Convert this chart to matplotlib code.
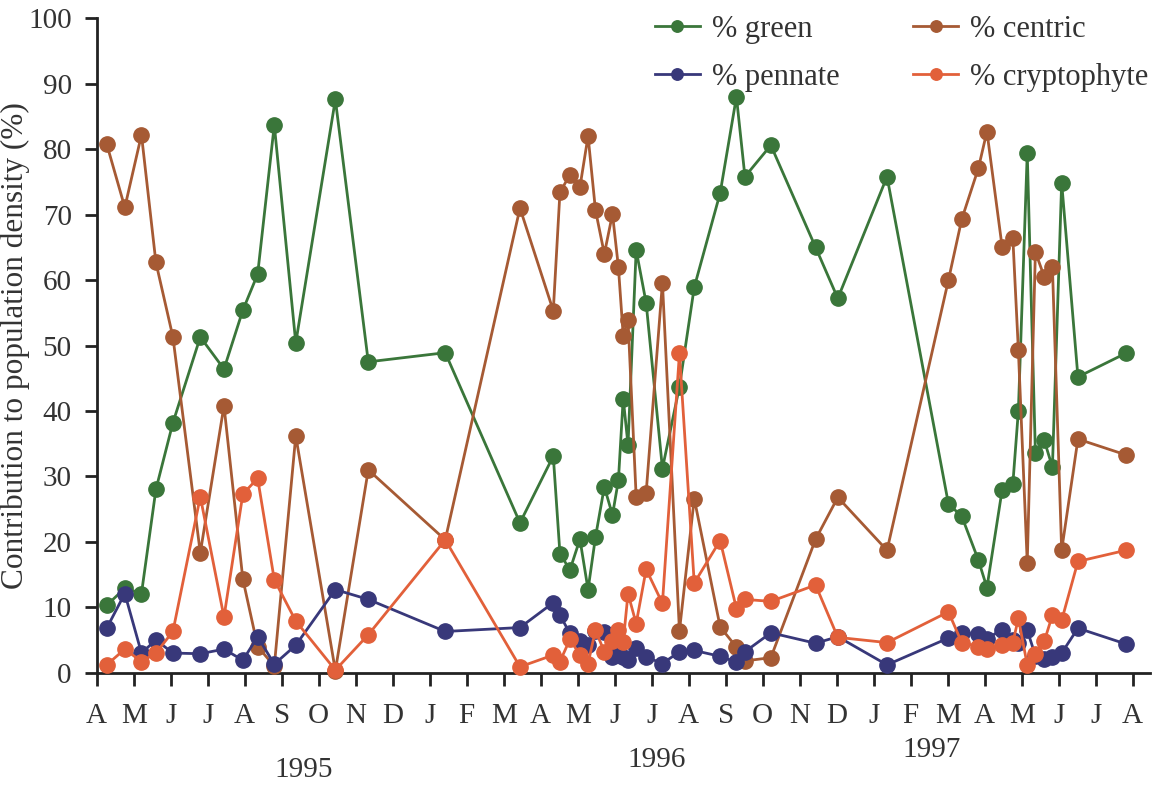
import matplotlib
matplotlib.use("Agg")
import matplotlib.pyplot as plt

# sampling dates, in months after 1 April 1995
months = [0.27, 0.76, 1.21, 1.60, 2.06, 2.80, 3.44, 3.95, 4.35, 4.80,
          5.38, 6.45, 7.34, 9.42, 11.44, 12.34, 12.52, 12.79, 13.06, 13.28,
          13.48, 13.72, 13.94, 14.10, 14.23, 14.36, 14.58, 14.85, 15.29, 15.75,
          16.15, 16.85, 17.29, 17.52, 18.22, 19.43, 20.03, 21.36, 23.02, 23.38,
          23.83, 24.06, 24.47, 24.76, 24.91, 25.15, 25.37, 25.61, 25.83, 26.08,
          26.52, 27.81]

green = [10.3, 12.9, 12.1, 28.0, 38.2, 51.3, 46.4, 55.4, 60.9, 83.7,
         50.4, 87.6, 47.5, 48.9, 22.9, 33.1, 18.2, 15.7, 20.4, 12.7,
         20.7, 28.4, 24.1, 29.4, 41.9, 34.8, 64.6, 56.5, 31.2, 43.7,
         58.9, 73.3, 88.0, 75.8, 80.6, 65.0, 57.2, 75.8, 25.8, 23.9,
         17.2, 13.0, 27.9, 28.8, 40.0, 79.4, 33.6, 35.5, 31.4, 74.9,
         45.2, 48.8]

centric = [80.8, 71.1, 82.2, 62.7, 51.3, 18.3, 40.8, 14.3, 4.0, 1.0,
           36.2, 0.3, 31.0, 20.3, 71.0, 55.3, 73.4, 76.1, 74.2, 82.0,
           70.7, 64.0, 70.1, 62.0, 51.5, 53.9, 26.9, 27.5, 59.6, 6.4,
           26.6, 7.0, 3.9, 1.8, 2.3, 20.4, 26.8, 18.7, 60.0, 69.3,
           77.1, 82.7, 65.1, 66.5, 49.3, 16.8, 64.3, 60.5, 62.0, 18.7,
           35.7, 33.3]

pennate = [6.8, 12.1, 3.0, 5.0, 3.0, 2.9, 3.6, 1.9, 5.5, 1.3,
           4.2, 12.7, 11.2, 6.3, 6.9, 10.7, 8.8, 6.0, 4.8, 4.2,
           6.3, 6.2, 2.4, 2.7, 2.4, 1.9, 3.7, 2.4, 1.4, 3.2,
           3.4, 2.5, 1.6, 3.2, 6.1, 4.5, 5.5, 1.2, 5.3, 6.0,
           5.9, 5.2, 6.6, 5.0, 4.5, 6.5, 2.6, 2.1, 2.4, 3.0,
           6.8, 4.4]

cryptophyte = [1.2, 3.6, 1.7, 3.0, 6.3, 26.9, 8.5, 27.3, 29.7, 14.2,
               7.9, 0.4, 5.8, 20.3, 0.9, 2.7, 1.7, 5.1, 2.7, 1.4,
               6.5, 3.2, 4.9, 6.6, 4.7, 12.1, 7.5, 15.8, 10.6, 48.8,
               13.7, 20.2, 9.8, 11.2, 10.9, 13.4, 5.4, 4.6, 9.3, 4.6,
               4.0, 3.6, 4.3, 4.6, 8.3, 1.2, 2.8, 4.8, 8.8, 8.0,
               17.0, 18.7]

month_labels = ["A", "M", "J", "J", "A", "S", "O", "N", "D", "J", "F", "M",
                "A", "M", "J", "J", "A", "S", "O", "N", "D", "J", "F", "M",
                "A", "M", "J", "J", "A"]
years = ["1995", "1996", "1997"]
yticks = [0, 10, 20, 30, 40, 50, 60, 70, 80, 90, 100]

FONT = "Liberation Serif"
TXT = "#333333"
plt.rcParams["font.family"] = [FONT, "DejaVu Serif"]

W, H = 1168, 785
fig = plt.figure(figsize=(W / 100, H / 100), dpi=100)
fig.patch.set_facecolor("white")

x0, x1 = 96.7, 1150.0
y0, y1 = 672.7, 18.3
ax = fig.add_axes([x0 / W, 1 - y0 / H, (x1 - x0) / W, (y0 - y1) / H])
ax.set_xlim(0, 28 + (1150 - 1132.7) / 37.0)
ax.set_ylim(0, 100)

series = [
    ("% green", green, "#3a763a", 3),
    ("% pennate", pennate, "#38387a", 5),
    ("% centric", centric, "#a65a34", 4),
    ("% cryptophyte", cryptophyte, "#e2603a", 6),
]
handles = []
for label, vals, col, z in series:
    h, = ax.plot(months, vals, color=col, lw=2.0, marker="o", ms=11,
                 mfc=col, mec=col, zorder=z, label=label, clip_on=False)
    handles.append(h)

for s in ["top", "right"]:
    ax.spines[s].set_visible(False)
for s in ["left", "bottom"]:
    ax.spines[s].set_linewidth(2.0)
    ax.spines[s].set_color("#222222")

ax.set_xticks(range(len(month_labels)))
ax.set_xticklabels(month_labels)
ax.set_yticks(yticks)
ax.set_yticklabels([str(v) for v in yticks])
ax.tick_params(axis="x", length=9, width=2, pad=13, labelsize=21,
               colors="#222222", labelcolor=TXT)
ax.tick_params(axis="y", length=9, width=2, pad=9, labelsize=21,
               colors="#222222", labelcolor=TXT)

ax.set_ylabel("Contribution to population density (%)", fontsize=22.5, color=TXT)
ax.yaxis.set_label_coords(-0.0633, 0.5)

for yr, (px, py) in zip(years, [(304, 770), (657, 760), (932, 750)]):
    fig.text(px / W, 1 - py / H, yr, ha="center", va="center",
             fontsize=21, color=TXT)

leg = fig.legend(handles=handles, ncol=2, loc="upper left",
                 bbox_to_anchor=(655 / W, 1 - 15 / H), frameon=False,
                 fontsize=22, handlelength=1.47, handletextpad=0.4,
                 columnspacing=2.4, labelspacing=0.62, borderpad=0,
                 borderaxespad=0, markerscale=0.75)
for t in leg.get_texts():
    t.set_color(TXT)

fig.savefig("out.png", dpi=100, facecolor="white")
